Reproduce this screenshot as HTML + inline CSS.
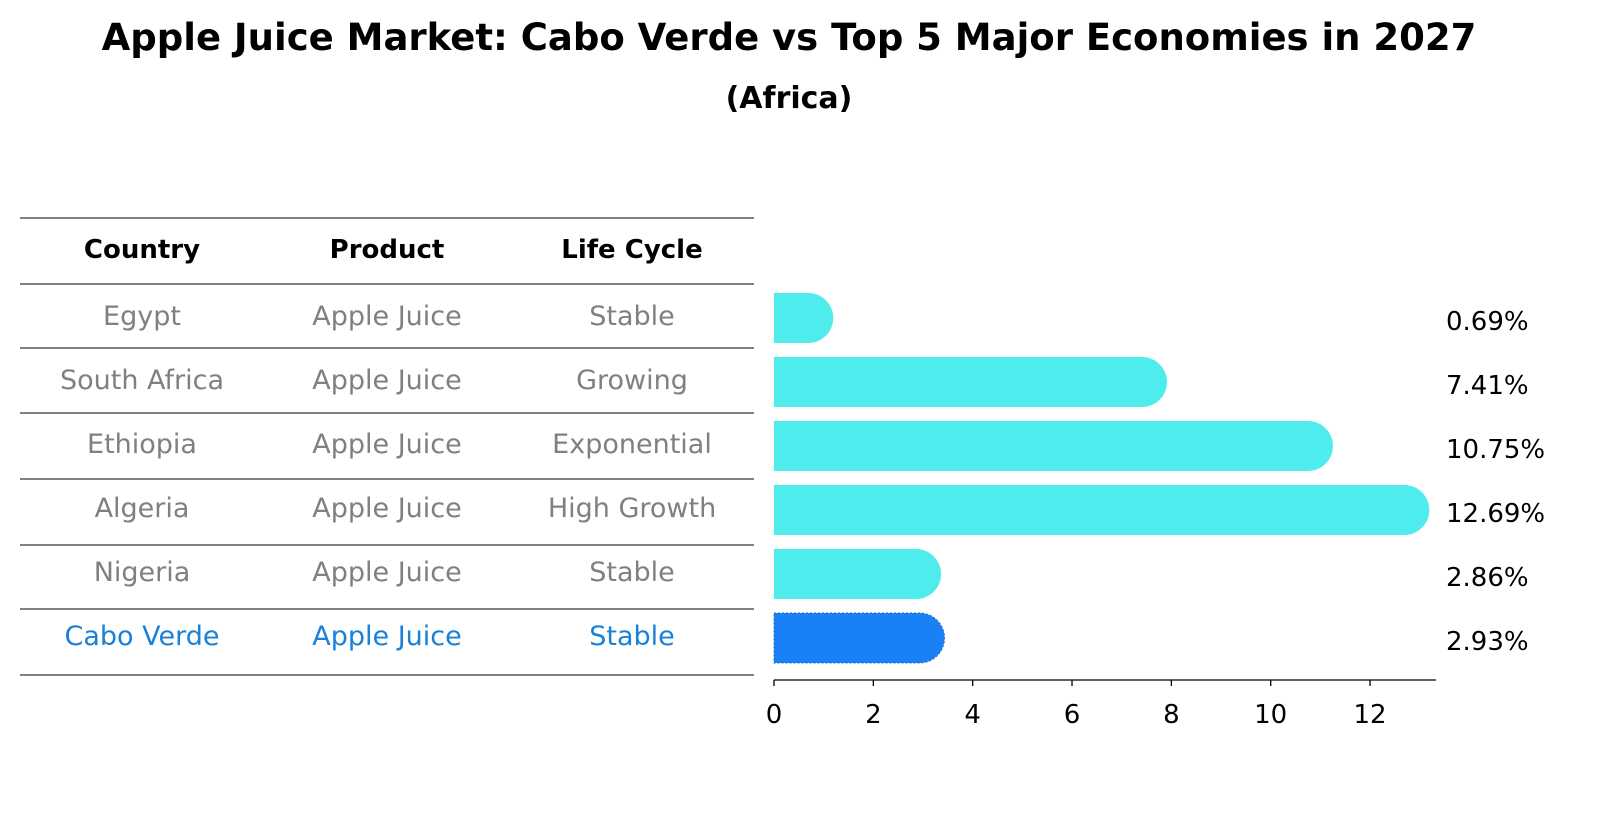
<!DOCTYPE html>
<html><head><meta charset="utf-8"><style>
body{margin:0;background:#fff;font-family:"DejaVu Sans","Liberation Sans",sans-serif}
</style></head><body>
<svg id="chart" width="1604" height="823" xmlns="http://www.w3.org/2000/svg" style="font-family:'DejaVu Sans','Liberation Sans',sans-serif">
<text x="789" y="50" text-anchor="middle" font-size="37" font-weight="bold">Apple Juice Market: Cabo Verde vs Top 5 Major Economies in 2027</text>
<text x="789" y="108" text-anchor="middle" font-size="30" font-weight="bold">(Africa)</text>
<g id="table"></g>
<g id="bars"></g>
<g id="axis"></g>
</svg>
<script>
const countries=["Egypt","South Africa","Ethiopia","Algeria","Nigeria","Cabo Verde"];
const products=["Apple Juice","Apple Juice","Apple Juice","Apple Juice","Apple Juice","Apple Juice"];
const lifeCycles=["Stable","Growing","Exponential","High Growth","Stable","Stable"];
const values=[0.69,7.41,10.75,12.69,2.86,2.93];
const valueLabels=["0.69%","7.41%","10.75%","12.69%","2.86%","2.93%"];
const ticks=[0,2,4,6,8,10,12];
const NS="http://www.w3.org/2000/svg";
function mk(tag,attrs,parent,text){const e=document.createElementNS(NS,tag);for(const k in attrs)e.setAttribute(k,attrs[k]);if(text!==undefined)e.textContent=text;parent.appendChild(e);return e;}
const x0=774,ppu=49.67;
const xs=v=>x0+v*ppu;
const rowY=i=>318+i*64;
const table=document.getElementById('table');
const lineYs=[218,284,348,413,479,545,609,675];
lineYs.forEach(y=>{const l=mk('line',{x1:20,x2:754,y1:y,y2:y,stroke:'#000','stroke-width':1},table);

});
const cols=[142,387,632];
["Country","Product","Life Cycle"].forEach((h,j)=>{const t=mk('text',{x:cols[j],y:258,'text-anchor':'middle','font-size':26,'font-weight':'bold'},table,h);

});
countries.forEach((c,i)=>{
 const y=rowY(i)+7;const col=i===countries.length-1?'#1a80d8':'#808080';
 [c,products[i],lifeCycles[i]].forEach((s,j)=>{const t=mk('text',{x:cols[j],y:y,'text-anchor':'middle','font-size':27,fill:col},table,s);
 
 });
});
const bars=document.getElementById('bars');
values.forEach((v,i)=>{
 const r=25,yc=rowY(i),xe=xs(v);
 const last=i===values.length-1;
 const p=mk('path',{d:`M${x0},${yc-r} L${xe},${yc-r} A${r},${r} 0 0 1 ${xe},${yc+r} L${x0},${yc+r} Z`,fill:last?'#1a80f5':'#4eecec',stroke:last?'#1a6fd8':'none','stroke-dasharray':last?'2,2':'none'},bars);
 
 
 const t=mk('text',{x:1446,y:yc+12,'font-size':26},bars,valueLabels[i]);
 
 
});
const axis=document.getElementById('axis');
const al=mk('line',{x1:x0,x2:1436,y1:680,y2:680,stroke:'#000','stroke-width':1.3},axis);


ticks.forEach(t=>{
 const l=mk('line',{x1:xs(t),x2:xs(t),y1:680,y2:686,stroke:'#000','stroke-width':1.3},axis);
 
 
 const tx=mk('text',{x:xs(t),y:723,'text-anchor':'middle','font-size':26},axis,String(t));
 
 
});
</script>
</body></html>
